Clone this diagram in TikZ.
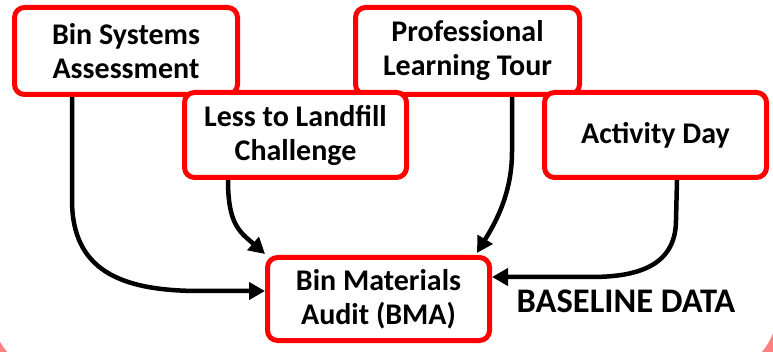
\documentclass[tikz,border=0pt]{standalone}
\usepackage{fontspec}
\setmainfont{Carlito}
\usetikzlibrary{arrows.meta}
\definecolor{pinkbg}{RGB}{255,128,128}
\definecolor{boxred}{RGB}{255,0,0}
\tikzset{
  box/.style={draw=boxred, line width=5pt, rounded corners=10pt, fill=white,
    align=center, inner sep=0pt, font=\fontsize{30}{34}\selectfont\bfseries},
  conn/.style={draw=black, line width=4.5pt, -{Triangle[length=16pt,width=17pt]}},
}
\begin{document}
\begin{tikzpicture}[x=1pt,y=-1pt]
\useasboundingbox (0,0) rectangle (773,352);
\begin{scope}
  \clip (0,0) rectangle (773,352);
  \fill[white] (0,0) rectangle (773,352);
  \fill[pinkbg, even odd rule] (-20,-120) rectangle (793,392)
    [rounded corners=63pt] (-8,-80) rectangle (777,374);
\end{scope}

\node[box, minimum width=223pt, minimum height=87pt] (A) at (126,51) {Bin Systems\\Assessment};
\node[box, minimum width=224pt, minimum height=87pt] (P) at (467.5,51) {Professional\\Learning Tour};
\node[box, minimum width=222pt, minimum height=85pt] (L) at (295.5,135) {Less to Landfill\\Challenge};
\node[box, minimum width=222pt, minimum height=85pt] (D) at (655.5,135) {Activity Day};
\node[box, minimum width=222pt, minimum height=83pt] (B) at (378.5,299) {Bin Materials\\Audit (BMA)};

\node[font=\fontsize{34.5}{40}\selectfont\bfseries, inner sep=0pt] (T) at (626,301) {BASELINE DATA};

\draw[conn] ([xshift=-54pt]A.south) -- ++(0,103) .. controls +(0,70) and +(-80,0) .. (200,291) -- ([yshift=8pt]B.west);
\draw[conn] ([xshift=-67.5pt]L.south) .. controls +(0,45) and +(-25,-22) .. ([yshift=1pt]B.north west);
\draw[conn] ([xshift=44.5pt]P.south) -- ++(0,55) .. controls +(0,45) and +(15,-25) .. ([xshift=-15pt,yshift=2pt]B.north east);
\draw[conn] ([xshift=21.5pt]D.south) -- ++(-1,40) .. controls +(0,50) and +(40,0) .. (590,277) -- ([yshift=22pt]B.east);
\end{tikzpicture}
\end{document}
